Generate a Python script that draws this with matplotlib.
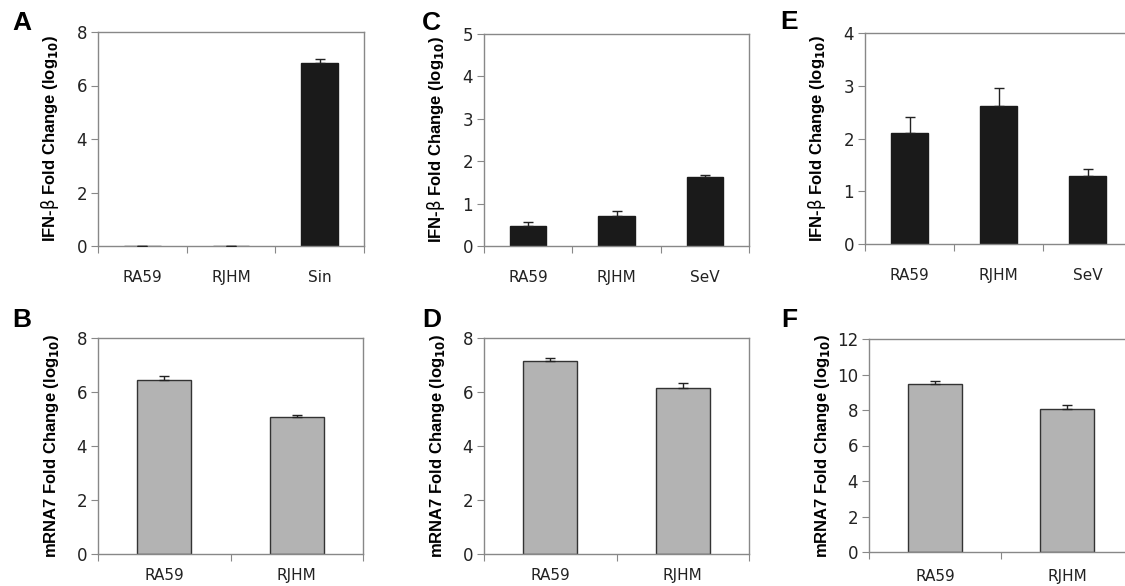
import matplotlib.pyplot as plt

plt.rcParams['mathtext.fontset'] = 'dejavusans'

# panel A, C, E: IFN-beta
ifn_cats_a = ["RA59", "RJHM", "Sin"]
ifn_vals_a = [0.0, 0.0, 6.85]
ifn_err_a = [0.0, 0.0, 0.15]

ifn_cats_c = ["RA59", "RJHM", "SeV"]
ifn_vals_c = [0.47, 0.70, 1.62]
ifn_err_c = [0.10, 0.13, 0.05]

ifn_cats_e = ["RA59", "RJHM", "SeV"]
ifn_vals_e = [2.10, 2.62, 1.29]
ifn_err_e = [0.30, 0.34, 0.125]

# panel B, D, F: mRNA7
rna_cats = ["RA59", "RJHM"]
rna_vals_b = [6.44, 5.06]
rna_err_b = [0.15, 0.09]
rna_vals_d = [7.14, 6.15]
rna_err_d = [0.11, 0.17]
rna_vals_f = [9.49, 8.06]
rna_err_f = [0.15, 0.23]

ifn_label = r'IFN-$\mathrm{\beta}$ Fold Change (log$_{\mathbf{10}}$)'
rna_label = r'mRNA7 Fold Change (log$_{\mathbf{10}}$)'

W, H = 1125, 586
fig = plt.figure(figsize=(W / 100, H / 100), dpi=100)

def px_axes(left, top, right, bottom):
    return fig.add_axes([left / W, 1 - bottom / H, (right - left) / W, (bottom - top) / H])

panels = [
    # letter, box(px), cats, vals, err, ymax, ystep, colour, label, letter pos, x label pad
    ("A", (98, 32, 364, 246), ifn_cats_a, ifn_vals_a, ifn_err_a, 8, 2, "#1a1a1a", ifn_label, (12, 11), 17),
    ("C", (484, 34, 749, 246), ifn_cats_c, ifn_vals_c, ifn_err_c, 5, 1, "#1a1a1a", ifn_label, (422, 11), 17),
    ("E", (865, 33, 1132, 244), ifn_cats_e, ifn_vals_e, ifn_err_e, 4, 1, "#1a1a1a", ifn_label, (780, 10), 17),
    ("B", (98, 338, 363, 554), rna_cats, rna_vals_b, rna_err_b, 8, 2, "#b3b3b3", rna_label, (12, 308), 10),
    ("D", (484, 338, 749, 554), rna_cats, rna_vals_d, rna_err_d, 8, 2, "#b3b3b3", rna_label, (422, 308), 10),
    ("F", (869, 339, 1133, 552), rna_cats, rna_vals_f, rna_err_f, 12, 2, "#b3b3b3", rna_label, (781, 308), 12),
]

for letter, box, cats, vals, err, ymax, ystep, colour, label, lpos, xpad in panels:
    ax = px_axes(*box)
    n = len(cats)
    x = list(range(n))
    edge = "#1a1a1a" if colour == "#1a1a1a" else "#333333"
    ax.bar(x, vals, width=0.41, color=colour, edgecolor=edge, linewidth=1.0, zorder=2)
    ax.errorbar(x, vals, yerr=[[0] * n, err], fmt="none", ecolor="#222222",
                elinewidth=1.0, capsize=3.5, capthick=1.0, zorder=3)
    ax.set_xlim(-0.5, n - 0.5)
    ax.set_ylim(0, ymax)
    ax.set_yticks(range(0, ymax + 1, ystep))
    ax.set_xticks([i - 0.5 for i in range(n + 1)])
    ax.set_xticklabels([])
    ax.set_xticks(x, minor=True)
    ax.set_xticklabels(cats, minor=True)
    ax.tick_params(axis="x", which="minor", length=0, pad=xpad, labelsize=11, labelcolor="#222222")
    ax.tick_params(axis="x", which="major", length=5, color="#888888")
    ax.tick_params(axis="y", length=5, color="#888888", labelsize=12, labelcolor="#222222", pad=3)
    for s in ax.spines.values():
        s.set_color("#888888")
        s.set_linewidth(1.0)
    ax.set_ylabel(label, fontsize=12, fontweight="bold", family="Liberation Sans")
    ax.yaxis.set_label_coords(-0.14, 0.5)
    fig.text(lpos[0] / W, 1 - lpos[1] / H, letter, fontsize=19, fontweight="bold",
             family="Liberation Sans", ha="left", va="top")

fig.savefig("out.png", dpi=100)
